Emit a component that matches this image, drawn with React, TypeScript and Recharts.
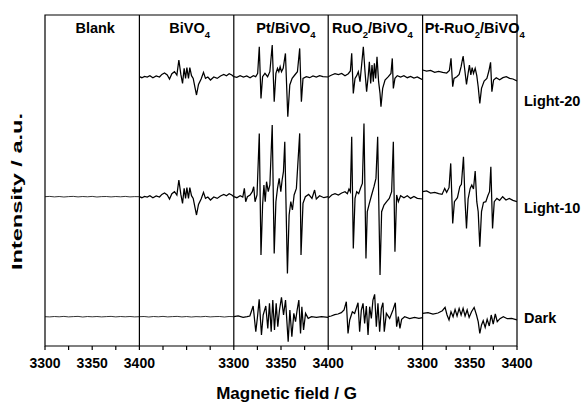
import React from 'react';
import { LineChart, Line, XAxis, YAxis, ReferenceArea, ReferenceLine } from 'recharts';

const FONT = '"Liberation Sans", Arial, Helvetica, sans-serif';

// Panel titles as segments: [text, isSubscript]
const PANEL_TITLES: [string, boolean][][] = [
  [['Blank', false]],
  [['BiVO', false], ['4', true]],
  [['Pt/BiVO', false], ['4', true]],
  [['RuO', false], ['2', true], ['/BiVO', false], ['4', true]],
  [['Pt-RuO', false], ['2', true], ['/BiVO', false], ['4', true]],
];
const ROW_LABELS = ['Light-20', 'Light-10', 'Dark'];
const ROW_OFFSETS = [269.3, 149.3, 29.3];

const FIELD_MIN = 3300;
const PANEL_SPAN = 100;
const ALL_TICKS = Array.from({ length: 21 }, (_, i) => i * 25);
const LABELED_TICKS = [0, 50, 100, 200, 250, 300, 400, 450, 500];
const TICK_LABELS = ['3300', '3350', '3400', '3300', '3350', '3400', '3300', '3350', '3400'];

type P = [number, number];

// ---- Blank ----
const blankLight10: P[] = [
  [3300, 0], [3305, 0.3], [3310, -0.2], [3315, 0.2], [3320, -0.3], [3325, 0.1], [3330, 0.3], [3335, -0.2],
  [3340, 0.2], [3345, -0.1], [3350, 0.3], [3355, -0.3], [3360, 0.1], [3365, 0.2], [3370, -0.2], [3375, 0.2],
  [3380, -0.1], [3385, 0.3], [3390, -0.2], [3395, 0.1], [3400, 0],
];
const blankDark: P[] = [
  [3300, 0], [3305, -0.2], [3310, 0.2], [3315, -0.1], [3320, 0.3], [3325, -0.2], [3330, 0.1], [3335, 0.3],
  [3340, -0.3], [3345, 0.2], [3350, -0.1], [3355, 0.2], [3360, -0.2], [3365, 0.1], [3370, 0.3], [3375, -0.2],
  [3380, 0.2], [3385, -0.1], [3390, 0.2], [3395, -0.2], [3400, 0],
];

// ---- BiVO4 ----
const bivoLight: P[] = [
  [3300, 0], [3302.6, -1], [3305.5, 0.3], [3308.3, -0.3], [3311.1, 1], [3314.3, -1], [3317.8, 0.7], [3321.3, -0.3],
  [3323.8, 2.3], [3326.6, 3.7], [3329.5, 1.7], [3331.9, -2.3], [3334.4, 3], [3337.2, 5], [3339.7, 1.7], [3341.8, 16.7],
  [3343.9, 2.3], [3345.7, -6.7], [3347.4, 8.3], [3348.9, -1.7], [3350.3, 9], [3352, -1.7], [3353.4, 9], [3355.2, 1],
  [3357, -1.7], [3358.7, -10], [3360.5, -18.3], [3362.6, -7.7], [3365.4, -2.3], [3367.9, 4.3], [3370, -1.7],
  [3372.5, -0.3], [3375.3, -3.3], [3378.8, -0.3], [3382.4, -1.7], [3385.9, 0.7], [3389.4, 2.3], [3392.2, 1],
  [3395.1, 3], [3397.9, 1.7], [3400, 0],
];
const bivoDark: P[] = [
  [3300, 0], [3305, 0.2], [3310, -0.3], [3315, 0.2], [3320, -0.1], [3325, 0.3], [3330, -0.2], [3335, 0.1],
  [3340, 0.3], [3345, -0.2], [3350, 0.2], [3355, -0.3], [3360, 0.1], [3365, -0.1], [3370, 0.3], [3375, -0.2],
  [3380, 0.1], [3385, 0.2], [3390, -0.3], [3395, 0.2], [3400, 0],
];

// ---- Pt/BiVO4 ----
const ptLight20: P[] = [
  [3300, 0], [3303.2, -0.7], [3306.7, 1], [3310.2, -0.3], [3313.7, 0.7], [3317.2, -1], [3320.7, 1], [3323.2, 0],
  [3325.3, 3.3], [3327, 30], [3328.8, -21.7], [3330.5, 0], [3333, 3.3], [3335.8, 0], [3338.2, 5], [3340.7, 31.7],
  [3342.8, -25], [3344.6, 3.3], [3346.3, 8.3], [3347.7, 5], [3349.1, 10], [3350.5, 5], [3352.3, 8.3], [3354.7, 23.3],
  [3357.2, -40], [3359.3, -8.3], [3361.8, -1.7], [3364.6, 1.7], [3367.4, 5], [3369.8, 28.3], [3371.6, -25],
  [3373.3, -1.7], [3376.8, 0], [3380.4, -1], [3383.9, 0.7], [3387.4, -0.3], [3390.9, 1], [3394.4, 0], [3400, -0.3],
];
const ptLight10: P[] = [
  [3300, 0], [3303.2, -1], [3306.7, 1], [3309.5, -0.3], [3311.2, 8.3], [3312.6, -5], [3314.4, 0], [3317.2, 1.7],
  [3319.6, 5], [3321.1, 10], [3322.5, -5], [3324.6, 1.7], [3327, 63.3], [3328.8, -58.3], [3330.5, -8.3],
  [3331.9, 11.7], [3333.3, -5], [3334.7, 15], [3336.5, 5], [3338.2, 11.7], [3340.7, 71.7], [3342.8, -56.7],
  [3344.6, -5], [3346.3, 8.3], [3348.1, 18.3], [3349.8, 5], [3351.2, 16.7], [3352.6, 25], [3354, 55],
  [3356.8, -76.7], [3358.6, -18.3], [3360.4, -5], [3362.1, -13.3], [3363.9, 1.7], [3366.3, 8.3], [3369.8, 63.3],
  [3371.2, -58.3], [3373.3, -6.7], [3375.8, 0], [3379.3, 2.3], [3382.8, -1.7], [3385.6, 6.7], [3387.4, -2.3],
  [3390.9, 1], [3395.4, -1], [3400, 0],
];
const ptDark: P[] = [
  [3300, 0], [3304.6, 0.7], [3309.9, -0.7], [3314.1, 0], [3317, 0.7], [3319.1, 6.7], [3320.5, 10.7], [3323.3, -15],
  [3325.1, 0], [3326.9, 17.3], [3329.3, -18.3], [3331.1, 1.7], [3333.9, 10.7], [3336, -11.7], [3337.8, 13.3],
  [3339.6, -15], [3341.3, 16.7], [3343.1, -13.3], [3344.9, 13.3], [3346.6, -10], [3348.4, 6.7], [3350.5, 19.3],
  [3352.7, 1.7], [3354.8, 16.7], [3357.6, -25], [3359.4, 6.7], [3361.5, -20], [3363.6, 3.3], [3365.4, -5],
  [3367.1, 6.7], [3368.9, 16.7], [3370.7, -16.7], [3372.1, 10], [3373.9, -13.3], [3376, 3.3], [3378.8, -1.7],
  [3382.3, 0], [3387.6, -0.7], [3392.9, 0], [3400, -0.7],
];

// ---- RuO2/BiVO4 ----
const ruLight20: P[] = [
  [3300, 0], [3303.7, 1.7], [3307.2, 3], [3310.8, 2], [3314.3, 3.3], [3317.8, 1], [3321.3, 3], [3323.5, 5.7],
  [3324.9, 23.3], [3326.6, -16.7], [3328.4, -1.7], [3330.2, 1], [3331.9, 5], [3333.7, -5], [3335.4, 11.7],
  [3337.2, 30], [3339, 5], [3340.7, -15], [3342.5, 1.7], [3343.6, 15], [3345, -6.7], [3346.4, 11.7], [3347.8, -5],
  [3348.9, 13.3], [3350.3, -1.7], [3351.7, 20], [3353.4, -5], [3354.9, -16.7], [3355.9, -30], [3357.7, -11.7],
  [3360.2, -3.3], [3363.7, 0], [3366.5, 3.3], [3367.9, 18.3], [3369, -11.7], [3370.7, -1.7], [3373.2, 1],
  [3376.7, -0.3], [3380.2, 1], [3383.8, -1], [3387.3, 0.3], [3390.8, -1.3], [3394.4, -0.3], [3397.2, -1.7],
  [3400, -3],
];
const ruLight10: P[] = [
  [3300, -1.7], [3303.7, 1.7], [3307.2, 3], [3310.8, 1.7], [3314.3, 3.7], [3317.8, 5], [3320.3, 3], [3322, 7.7],
  [3323.5, 5], [3324.9, 60], [3326.6, -51.7], [3328.4, -1.7], [3330.2, 5], [3332.3, 3], [3334.4, 9], [3336.2, 13.3],
  [3337.9, 73.3], [3340, -61.7], [3341.4, -15], [3343.6, -6.7], [3346, 1.7], [3348.5, 10], [3350.6, 18.3],
  [3352.4, 60], [3354.9, -78.3], [3356.6, -15], [3359.1, -8.3], [3361.9, -5], [3364.7, -1.7], [3367.2, 5],
  [3369, 55], [3370.7, -55], [3372.5, 1.7], [3374.3, -5], [3376.7, 1], [3380.2, -1], [3383.8, 1], [3387.3, -1.7],
  [3390.8, 0.3], [3394.4, -1.7], [3400, -2.3],
];
const ruDark: P[] = [
  [3300, 0], [3303.2, 0.7], [3306.9, 2], [3310.4, 2.7], [3313.9, 4], [3316.8, 6.7], [3319.2, 15], [3321, -16.7],
  [3322.8, -3.3], [3325.6, 5], [3328, 3.3], [3331.6, 14], [3333.3, -15], [3335.1, 6.7], [3336.9, 13.3],
  [3338.6, -6.7], [3340.4, 10.7], [3342.2, -18.3], [3343.9, 10], [3345.7, -1.7], [3347.4, 16.7], [3349.2, 22.3],
  [3351, -10], [3352.7, 13.3], [3354.5, -15], [3356.3, 8.3], [3358, 14], [3359.4, -15], [3361.6, 3.3],
  [3365.1, -1.7], [3368.6, 6.7], [3371.1, 14], [3372.5, -10], [3374.3, 0], [3376, -11.7], [3377.8, -2.7],
  [3381, 0], [3386.3, -2], [3391.5, -0.7], [3396.1, -1.7], [3400, -1],
];

// ---- Pt-RuO2/BiVO4 ----
const ptRuLight20: P[] = [
  [3300, 6.7], [3304.3, 5.7], [3308.5, 6.3], [3312.8, 4.3], [3317, 5.3], [3321.3, 4.3], [3325.5, 3.7], [3328.4, 6.3],
  [3330.1, 18.3], [3331.9, -10], [3333.3, -1.7], [3336.2, 0], [3338.7, 2.3], [3340.8, 10], [3342.9, 20.7],
  [3344.7, 6.7], [3346.5, -7.7], [3348.2, 3.3], [3349.6, 11.7], [3351.1, 1.7], [3352.5, 9], [3353.9, 3.3],
  [3355.7, 8.3], [3357.4, 1], [3358.9, -10], [3360.6, -26.7], [3362.4, -11.7], [3365.2, -4.3], [3368.1, -1.7],
  [3370.2, 5.7], [3372, 14.3], [3373.4, -15], [3375.2, -3.3], [3378, -1], [3381.6, -3], [3385.1, -1], [3388.7, 0],
  [3392.2, -1.7], [3395.7, -2.3], [3400, -4.3],
];
const ptRuLight10: P[] = [
  [3300, 5], [3304.3, 5.7], [3308.5, 3.7], [3312.8, 4.3], [3317, 3], [3320.6, 2.3], [3323.4, 8.3], [3325.5, 4.3],
  [3328, 9], [3329.8, 33.3], [3331.9, -26.7], [3333.7, -5], [3336.9, -1], [3339.4, 10], [3341.1, 12.3],
  [3343.3, 40], [3345, -5], [3346.5, -31.7], [3348.2, -2.3], [3350.4, 8.3], [3352.1, 11.7], [3353.9, 7.7],
  [3355.7, 25.7], [3357.4, -5], [3358.9, -15], [3360.6, -50], [3362.4, -15], [3364.5, -5.7], [3367, -5],
  [3369.1, 1], [3370.9, 5], [3372.3, 30], [3374.1, -31.7], [3375.9, -5], [3378.7, -1.7], [3381.6, -3.7],
  [3384.8, 0], [3388.3, -3.3], [3391.8, -1.7], [3395.7, -3.7], [3400, -5],
];
const ptRuDark: P[] = [
  [3300, 3.3], [3305.7, 4], [3311, 2.7], [3316.3, 3.7], [3320.9, 6], [3323.8, 9.3], [3325.9, 1.7], [3328, -3.3],
  [3330.1, 5], [3332.3, 0], [3334.4, 7.3], [3336.5, 0.7], [3338.7, 8.3], [3340.8, 1.7], [3342.9, 8.3], [3345, 0.7],
  [3347.2, 6.7], [3349.3, -0.7], [3351.8, 5], [3354.6, 9.3], [3357.1, 1.7], [3358.9, -5], [3360.6, -16.7],
  [3362.4, -8.3], [3364.2, -4], [3366.3, -10.7], [3368.4, -2.7], [3370.6, -9.3], [3372.7, 1.7], [3374.8, -7.3],
  [3377, 2.7], [3379.1, -5], [3381.9, -2], [3385.5, 0], [3389.7, -2], [3394.3, -1.7], [3400, -3.3],
];

// [panelIndex, rowIndex, spectrum, strokeWidth]
const SPECTRA: [number, number, P[], number][] = [
  [0, 1, blankLight10, 0.8],
  [0, 2, blankDark, 0.8],
  [1, 0, bivoLight, 1.25],
  [1, 1, bivoLight, 1.25],
  [1, 2, bivoDark, 0.8],
  [2, 0, ptLight20, 1.25],
  [2, 1, ptLight10, 1.25],
  [2, 2, ptDark, 1.25],
  [3, 0, ruLight20, 1.25],
  [3, 1, ruLight10, 1.25],
  [3, 2, ruDark, 1.25],
  [4, 0, ptRuLight20, 1.25],
  [4, 1, ptRuLight10, 1.25],
  [4, 2, ptRuDark, 1.25],
];

const SERIES = SPECTRA.map(([panel, row, pts, sw]) => ({
  sw,
  data: pts.map(([f, v]) => ({ x: panel * PANEL_SPAN + (f - FIELD_MIN), y: ROW_OFFSETS[row] + v })),
}));

const TITLE_DX = [3, 3, 5, -3, 5];
const ROW_LABEL_BASELINES = [106, 213.3, 323];

const AxisTick = (props: any) => {
  const { x, y, payload } = props;
  const idx = LABELED_TICKS.indexOf(payload.value);
  return (
    <g>
      <line x1={x} y1={y} x2={x} y2={y + 4} stroke="#000" strokeWidth={1.2} />
      {idx >= 0 && (
        <text x={x} y={y + 22} textAnchor="middle" fontFamily={FONT} fontWeight="bold" fontSize={14} fill="#000">
          {TICK_LABELS[idx]}
        </text>
      )}
    </g>
  );
};

const Annotations = (props: any) => {
  const vb = props.viewBox || { x: 45, y: 15, width: 472, height: 331 };
  const pw = vb.width / PANEL_TITLES.length;
  return (
    <g fontFamily={FONT} fontWeight="bold" fill="#000">
      {PANEL_TITLES.map((segs, i) => (
        <text key={'t' + i} x={vb.x + (i + 0.5) * pw + TITLE_DX[i]} y={vb.y + 18} textAnchor="middle" fontSize={14.5}>
          {segs.map(([s, sub], j) => {
            const prevSub = j > 0 && segs[j - 1][1];
            const dy = sub ? 5 : prevSub ? -5 : 0;
            return (
              <tspan key={j} dy={dy} fontSize={sub ? 9.5 : 14.5}>
                {s}
              </tspan>
            );
          })}
        </text>
      ))}
      {ROW_LABELS.map((l, i) => (
        <text key={'r' + i} x={vb.x + vb.width + 7} y={ROW_LABEL_BASELINES[i]} fontSize={14.5}>
          {l}
        </text>
      ))}
      <text
        x={21.5}
        y={191.5}
        transform="rotate(-90, 21.5, 191.5)"
        textAnchor="middle"
        fontSize={15}
        textLength={157}
        lengthAdjust="spacingAndGlyphs"
      >
        Intensity / a.u.
      </text>
      <text x={286.5} y={399} textAnchor="middle" fontSize={17}>
        Magnetic field / G
      </text>
    </g>
  );
};

export default function App() {
  return (
    <div style={{ position: 'absolute', left: 0, top: 0, width: 582, height: 402, background: '#fff' }}>
      <LineChart width={582} height={402} margin={{ top: 15, right: 65, bottom: 0, left: 45 }}>
        <XAxis
          type="number"
          dataKey="x"
          domain={[0, 500]}
          ticks={ALL_TICKS}
          interval={0}
          tickLine={false}
          axisLine={false}
          tickSize={0}
          tickMargin={0}
          height={56}
          allowDataOverflow
          tick={<AxisTick />}
        />
        <YAxis type="number" dataKey="y" domain={[0, 331]} hide allowDataOverflow />
        {SERIES.map((s, i) => (
          <Line
            key={i}
            data={s.data}
            dataKey="y"
            type="linear"
            stroke="#000"
            strokeWidth={s.sw}
            dot={false}
            activeDot={false}
            isAnimationActive={false}
          />
        ))}
        {[100, 200, 300, 400].map((v) => (
          <ReferenceLine key={v} x={v} stroke="#000" strokeWidth={1.2} />
        ))}
        <ReferenceArea
          x1={0}
          x2={500}
          y1={0}
          y2={331}
          fill="none"
          fillOpacity={0}
          stroke="#000"
          strokeWidth={1.2}
          label={<Annotations />}
        />
      </LineChart>
    </div>
  );
}
